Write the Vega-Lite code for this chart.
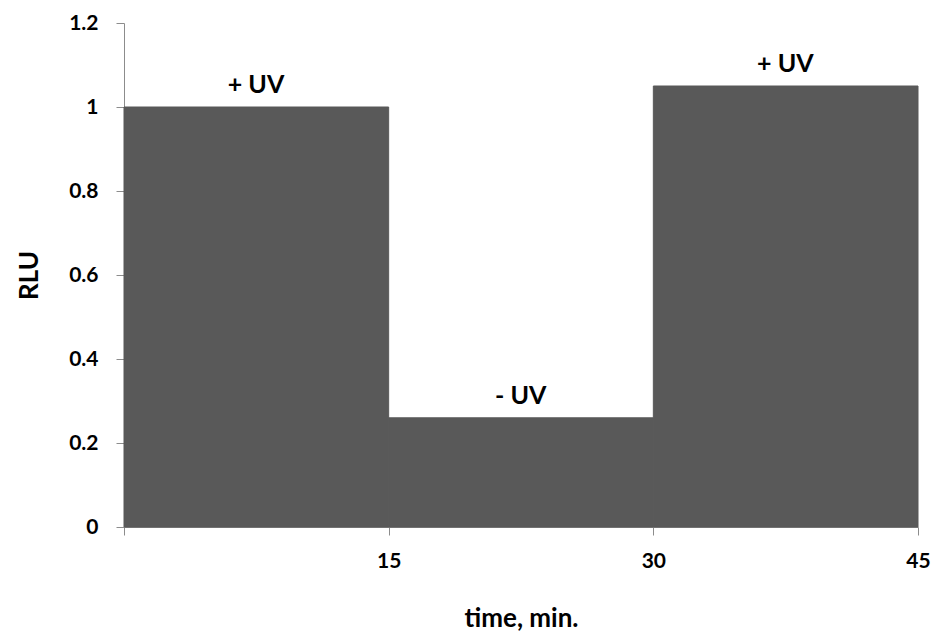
{
  "$schema": "https://vega.github.io/schema/vega-lite/v6.json",
  "width": 794,
  "height": 504,
  "autosize": {"type": "none"},
  "padding": {"left": 124, "top": 23, "right": 22, "bottom": 116},
  "background": "white",
  "config": {
    "view": {"stroke": null},
    "font": "Lato",
    "axis": {"grid": false, "domainColor": "#8c8c8c", "tickColor": "#8c8c8c", "tickSize": 8, "labelFont": "Lato", "labelFontWeight": "bold", "labelFontSize": 21, "labelColor": "#000000", "titleFont": "Lato", "titleFontWeight": "bold", "titleFontSize": 26, "titleColor": "#000000"}
  },
  "data": {"values": [
    {"start": 0, "end": 15, "rlu": 1.0, "label": "+ UV"},
    {"start": 15, "end": 30, "rlu": 0.26, "label": "- UV"},
    {"start": 30, "end": 45, "rlu": 1.05, "label": "+ UV"}
  ]},
  "layer": [
    {
      "mark": {"type": "rect", "color": "#595959", "stroke": "#595959", "strokeWidth": 1},
      "encoding": {
        "x": {"field": "start", "type": "quantitative", "scale": {"domain": [0, 45], "nice": false, "zero": true},
          "axis": {"title": "time, min.", "values": [0, 15, 30, 45], "labelExpr": "datum.value == 0 ? '' : datum.label", "labelPadding": 15, "titlePadding": 34, "labelFlush": false}},
        "x2": {"field": "end"},
        "y": {"field": "rlu", "type": "quantitative", "scale": {"domain": [0, 1.2], "nice": false},
          "axis": {"title": "RLU", "values": [0, 0.2, 0.4, 0.6, 0.8, 1.0, 1.2], "format": "~g", "labelPadding": 18, "titlePadding": 26}},
        "y2": {"datum": 0}
      }
    },
    {
      "mark": {"type": "text", "font": "Lato", "fontWeight": "bold", "fontSize": 25, "baseline": "alphabetic", "align": "center", "dx": 132, "dy": -14, "color": "#000000"},
      "encoding": {
        "x": {"field": "start", "type": "quantitative"},
        "y": {"field": "rlu", "type": "quantitative"},
        "text": {"field": "label"}
      }
    }
  ]
}
